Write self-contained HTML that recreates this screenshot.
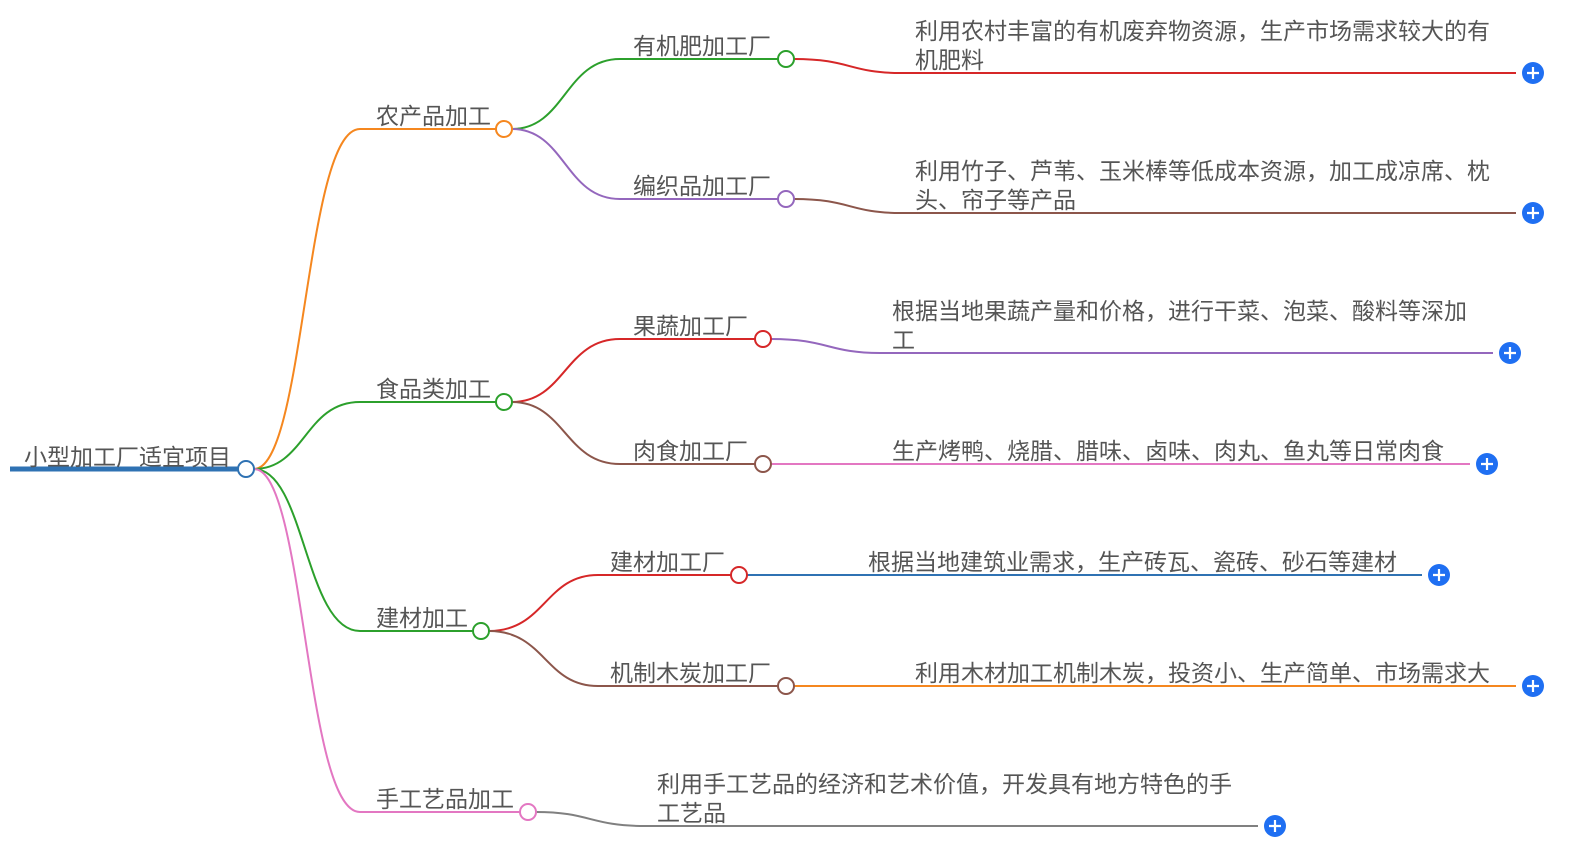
<!DOCTYPE html>
<html><head><meta charset="utf-8"><style>
html,body{margin:0;padding:0;background:#fff;}
svg{display:block;}
text{font-family:"Liberation Sans","Noto Sans CJK SC",sans-serif;font-size:23px;fill:#555;}
</style></head><body>
<svg width="1590" height="857" viewBox="0 0 1590 857" xmlns="http://www.w3.org/2000/svg">
<g fill="none" stroke-width="2">
<line x1="10" y1="469" x2="238" y2="469" stroke="#2f72b3" stroke-width="5"/>
<path d="M254 469 C305 469 305 129 360 129 H496" stroke="#f5871f"/>
<path d="M254 469 C305 469 305 402 360 402 H496" stroke="#2ca02c"/>
<path d="M254 469 C305 469 305 631 360 631 H473" stroke="#2ca02c"/>
<path d="M254 469 C305 469 305 812 360 812 H520" stroke="#e377c2"/>
<path d="M512 129 C565 129 565 59 620 59 H778" stroke="#2ca02c"/>
<path d="M512 129 C565 129 565 199 620 199 H778" stroke="#9467bd"/>
<path d="M512 402 C565 402 565 339 620 339 H755" stroke="#d62728"/>
<path d="M512 402 C565 402 565 464 620 464 H755" stroke="#8c564b"/>
<path d="M489 631 C545 631 545 575 598 575 H731" stroke="#d62728"/>
<path d="M489 631 C545 631 545 686 598 686 H778" stroke="#8c564b"/>
<path d="M794 59 C850 59 850 73 900 73 H1516" stroke="#d62728"/>
<path d="M794 199 C850 199 850 213 900 213 H1516" stroke="#8c564b"/>
<path d="M771 339 C828 339 828 353 880 353 H1493" stroke="#9467bd"/>
<path d="M771 464 H1470" stroke="#e377c2"/>
<path d="M747 575 H1422" stroke="#2f72b3"/>
<path d="M794 686 H1516" stroke="#f5871f"/>
<path d="M536 812 C590 812 590 826 645 826 H1258" stroke="#808080"/>
</g>
<g fill="#fff" stroke-width="2">
<circle cx="246" cy="469" r="8" stroke="#2f72b3"/>
<circle cx="504" cy="129" r="8" stroke="#f5871f"/>
<circle cx="504" cy="402" r="8" stroke="#2ca02c"/>
<circle cx="481" cy="631" r="8" stroke="#2ca02c"/>
<circle cx="528" cy="812" r="8" stroke="#e377c2"/>
<circle cx="786" cy="59" r="8" stroke="#2ca02c"/>
<circle cx="786" cy="199" r="8" stroke="#9467bd"/>
<circle cx="763" cy="339" r="8" stroke="#d62728"/>
<circle cx="763" cy="464" r="8" stroke="#8c564b"/>
<circle cx="739" cy="575" r="8" stroke="#d62728"/>
<circle cx="786" cy="686" r="8" stroke="#8c564b"/>
</g>
<g>
<g transform="translate(1533,73)"><circle r="11" fill="#1f6ff2"/><path d="M-6 0H6M0 -6V6" stroke="#fff" stroke-width="2.2"/></g>
<g transform="translate(1533,213)"><circle r="11" fill="#1f6ff2"/><path d="M-6 0H6M0 -6V6" stroke="#fff" stroke-width="2.2"/></g>
<g transform="translate(1510,353)"><circle r="11" fill="#1f6ff2"/><path d="M-6 0H6M0 -6V6" stroke="#fff" stroke-width="2.2"/></g>
<g transform="translate(1487,464)"><circle r="11" fill="#1f6ff2"/><path d="M-6 0H6M0 -6V6" stroke="#fff" stroke-width="2.2"/></g>
<g transform="translate(1439,575)"><circle r="11" fill="#1f6ff2"/><path d="M-6 0H6M0 -6V6" stroke="#fff" stroke-width="2.2"/></g>
<g transform="translate(1533,686)"><circle r="11" fill="#1f6ff2"/><path d="M-6 0H6M0 -6V6" stroke="#fff" stroke-width="2.2"/></g>
<g transform="translate(1275,826)"><circle r="11" fill="#1f6ff2"/><path d="M-6 0H6M0 -6V6" stroke="#fff" stroke-width="2.2"/></g>
</g>
<text x="24" y="465">小型加工厂适宜项目</text>
<text x="376" y="124">农产品加工</text>
<text x="376" y="397">食品类加工</text>
<text x="376" y="626">建材加工</text>
<text x="376" y="807">手工艺品加工</text>
<text x="633" y="54">有机肥加工厂</text>
<text x="633" y="194">编织品加工厂</text>
<text x="633" y="334">果蔬加工厂</text>
<text x="633" y="459">肉食加工厂</text>
<text x="610" y="570">建材加工厂</text>
<text x="610" y="681">机制木炭加工厂</text>
<text x="915" y="39">利用农村丰富的有机废弃物资源，生产市场需求较大的有</text>
<text x="915" y="68">机肥料</text>
<text x="915" y="179">利用竹子、芦苇、玉米棒等低成本资源，加工成凉席、枕</text>
<text x="915" y="208">头、帘子等产品</text>
<text x="892" y="319">根据当地果蔬产量和价格，进行干菜、泡菜、酸料等深加</text>
<text x="892" y="348">工</text>
<text x="892" y="459">生产烤鸭、烧腊、腊味、卤味、肉丸、鱼丸等日常肉食</text>
<text x="868" y="570">根据当地建筑业需求，生产砖瓦、瓷砖、砂石等建材</text>
<text x="915" y="681">利用木材加工机制木炭，投资小、生产简单、市场需求大</text>
<text x="657" y="792">利用手工艺品的经济和艺术价值，开发具有地方特色的手</text>
<text x="657" y="821">工艺品</text>
</svg>
</body></html>
